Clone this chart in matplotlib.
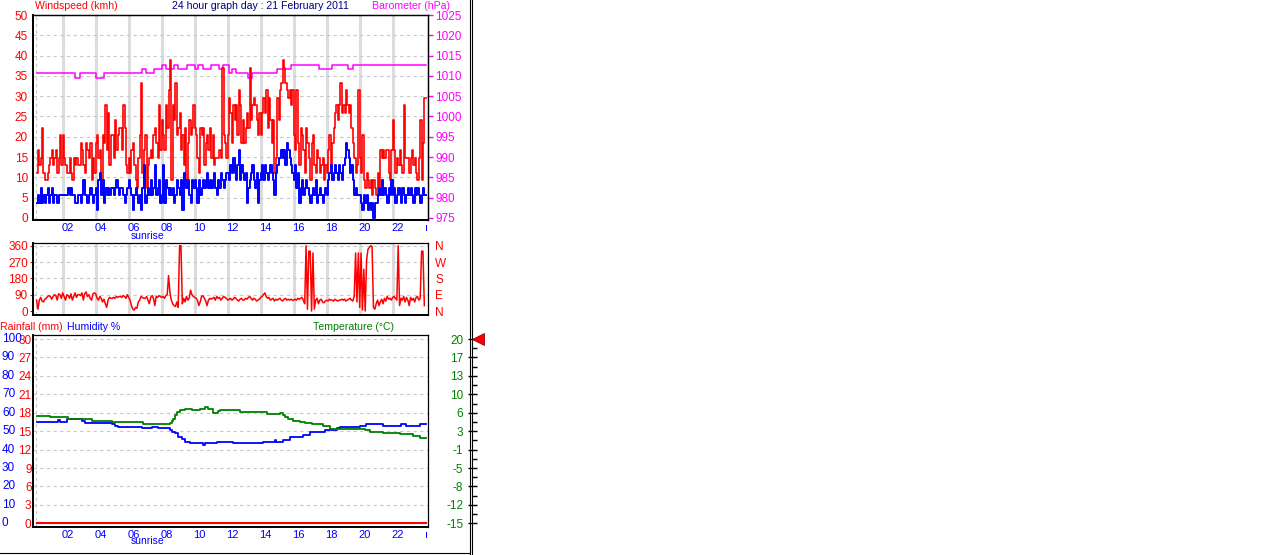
import numpy as np
import matplotlib
matplotlib.use("Agg")
import matplotlib.pyplot as plt
from matplotlib.lines import Line2D
from matplotlib.transforms import blended_transform_factory, ScaledTranslation

plt.rcParams['font.family'] = ['Liberation Sans', 'DejaVu Sans']
plt.rcParams['font.size'] = 8

W, H, DPI = 1272, 555, 100

RED = '#ff0000'
BLUE = '#0000ff'
MAG = '#ff00ff'
GREEN = '#008000'
NAVY = '#000080'
VGRID = '#dcdcdc'
HGRID = '#c8c8c8'

# ---- data: 5 minute samples from 00:25 to 23:55 ----
START = 5 / 12
STEP = 1 / 12

# wind gust, knot steps (1 kn = 1.852 km/h), one row per hour
gust_kn = [
    6, 9, 7, 8, 12, 6, 5,
    5, 6, 7, 8, 9, 7, 8, 9, 6, 8, 11, 7,
    11, 8, 7, 6, 6, 8, 6, 5, 8, 7, 8, 7,
    7, 10, 9, 7, 6, 10, 9, 8, 10, 5, 8, 6,
    10, 11, 8, 9, 5, 11, 10, 15, 9, 14, 7, 11,
    11, 8, 13, 9, 11, 12, 12, 9, 15, 12, 7, 6,
    8, 6, 9, 10, 7, 5, 4, 8, 11, 18, 6, 9,
    11, 4, 7, 8, 9, 8, 11, 12, 10, 8, 15, 9,
    13, 11, 9, 15, 12, 17, 21, 5, 15, 13, 18, 11,
    12, 14, 9, 11, 7, 12, 5, 10, 13, 11, 12, 15,
    12, 11, 8, 6, 12, 11, 12, 7, 10, 11, 9, 12,
    8, 11, 7, 8, 8, 8, 9, 8, 20, 11, 10, 8,
    11, 16, 14, 10, 15, 13, 15, 11, 17, 15, 10, 13,
    10, 12, 14, 12, 20, 13, 15, 16, 15, 13, 11, 14,
    11, 14, 16, 14, 17, 12, 16, 13, 10, 13, 6, 8,
    16, 13, 17, 18, 21, 20, 18, 17, 16, 17, 15, 17,
    11, 9, 17, 10, 7, 12, 11, 9, 6, 12, 10, 8,
    5, 10, 11, 7, 6, 9, 8, 6, 7, 8, 5, 7,
    6, 9, 11, 7, 10, 12, 14, 15, 13, 15, 18, 14,
    15, 14, 17, 15, 14, 15, 12, 10, 8, 6, 7, 17,
    8, 6, 11, 5, 4, 6, 5, 4, 5, 3, 5, 4,
    3, 6, 4, 9, 8, 9, 8, 9, 9, 6, 5, 9,
    13, 9, 6, 8, 7, 9, 7, 6, 15, 8, 8, 8,
    6, 8, 9, 7, 8, 6, 5, 8, 13, 5, 10, 16,
]

# average wind speed, knot steps
wind_kn = [
    2, 3, 2, 4, 2, 3, 2,
    3, 4, 2, 3, 4, 2, 3, 3, 2, 3, 3, 3,
    3, 3, 3, 3, 4, 3, 4, 3, 3, 2, 2, 3,
    3, 2, 3, 5, 3, 3, 2, 3, 4, 3, 2, 3,
    4, 1, 5, 6, 3, 5, 2, 4, 3, 4, 3, 4,
    4, 3, 4, 5, 4, 3, 4, 4, 3, 2, 3, 4,
    5, 4, 3, 1, 3, 4, 3, 2, 3, 1, 4, 7,
    2, 3, 4, 3, 5, 3, 4, 7, 3, 4, 5, 2,
    3, 7, 2, 5, 4, 3, 4, 3, 4, 2, 3, 5,
    4, 3, 5, 1, 6, 5, 4, 5, 3, 2, 5, 4,
    5, 4, 2, 5, 3, 4, 5, 4, 5, 6, 4, 5,
    4, 5, 6, 4, 3, 5, 4, 6, 5, 4, 5, 6,
    6, 5, 7, 6, 8, 6, 5, 7, 9, 5, 7, 6,
    5, 6, 2, 4, 5, 6, 7, 5, 4, 6, 2, 5,
    6, 7, 5, 7, 6, 5, 6, 7, 6, 5, 3, 6,
    7, 8, 8, 9, 8, 9, 7, 10, 9, 8, 7, 6,
    5, 7, 4, 6, 2, 4, 5, 3, 4, 5, 4, 3,
    2, 3, 4, 3, 5, 2, 3, 4, 3, 2, 3, 4,
    3, 5, 6, 7, 5, 6, 7, 6, 5, 7, 6, 5,
    7, 8, 10, 9, 8, 6, 7, 5, 3, 4, 3, 3,
    3, 2, 1, 3, 2, 3, 1, 2, 1, 2, 0, 2,
    2, 3, 4, 3, 5, 3, 4, 3, 2, 4, 3, 5,
    3, 4, 2, 3, 4, 3, 2, 4, 3, 2, 3, 4,
    3, 4, 3, 2, 4, 3, 4, 3, 2, 3, 4, 3,
]

# wind direction, degrees
wind_dir = [
    60, 10, 60, 75, 55, 50, 65,
    70, 80, 85, 80, 65, 80, 90, 85, 60, 95, 90, 70,
    100, 80, 60, 90, 85, 70, 95, 60, 80, 100, 75, 90,
    90, 85, 100, 60, 95, 105, 80, 90, 70, 60, 95, 100,
    95, 70, 60, 80, 70, 50, 65, 40, 20, 60, 75, 70,
    70, 75, 70, 80, 75, 80, 80, 75, 85, 80, 70, 90,
    75, 60, 30, 10, 5, 20, 15, 50, 60, 80, 75, 70,
    70, 80, 60, 40, 75, 85, 70, 30, 80, 75, 85, 80,
    75, 80, 70, 85, 90, 195, 100, 60, 40, 30, 25, 50,
    20, 360, 360, 40, 70, 50, 80, 60, 70, 115, 90, 80,
    75, 70, 60, 30, 50, 80, 85, 70, 55, 30, 60, 70,
    65, 70, 75, 60, 80, 70, 75, 60, 70, 80, 75, 70,
    60, 65, 70, 60, 65, 75, 70, 60, 55, 65, 70, 60,
    60, 70, 65, 75, 80, 70, 60, 70, 65, 55, 60, 65,
    75, 80, 90, 100, 80, 70, 75, 60, 65, 70, 55, 65,
    60, 65, 70, 60, 55, 65, 70, 60, 65, 60, 65, 60,
    60, 65, 60, 70, 65, 70, 75, 60, 40, 360, 10, 330,
    330, 0, 320, 10, 60, 70, 40, 60, 65, 50, 45, 55,
    60, 55, 65, 60, 60, 55, 65, 60, 55, 60, 60, 65,
    60, 65, 55, 60, 65, 70, 60, 55, 80, 320, 50, 320,
    20, 320, 5, 230, 0, 280, 340, 350, 360, 355, 20, 10,
    40, 60, 30, 50, 65, 40, 70, 55, 80, 65, 70, 60,
    75, 80, 70, 60, 360, 30, 70, 60, 80, 50, 75, 60,
    30, 75, 60, 70, 50, 75, 80, 60, 70, 330, 330, 30,
]

# barometer steps (hour of change, hPa)
baro_hours = [0.42, 2.77, 3.03, 4.0, 4.48, 6.79, 7.03, 7.53, 8.0, 8.24, 8.77,
              9.01, 9.51, 10.02, 10.22, 10.48, 10.99, 11.49, 11.73, 12.08,
              12.28, 12.52, 13.23, 13.49, 15.0, 15.83, 17.52, 18.3, 19.27,
              19.57, 24.0]
baro_hpa = [1010.7, 1009.5, 1010.7, 1009.5, 1010.7, 1011.6, 1010.7, 1011.6,
            1012.6, 1011.6, 1012.6, 1011.6, 1012.6, 1011.6, 1012.6, 1011.6,
            1012.6, 1011.6, 1012.6, 1010.7, 1011.6, 1010.7, 1009.5, 1010.7,
            1011.6, 1012.6, 1011.6, 1012.6, 1011.6, 1012.6, 1012.6]

# humidity steps (hour of change, %)
hum_hours = [0.42, 1.74, 1.84, 2.24, 3.15, 3.35, 4.97, 5.17, 5.37, 6.79,
             7.39, 7.8, 8.5, 8.6, 8.81, 9.01, 9.21, 9.41, 9.72, 10.5,
             10.6, 11.33, 12.34, 14.16, 14.85, 14.9, 15.37, 15.78, 16.58, 16.99,
             17.9, 18.6, 18.8, 20.0, 20.4, 21.4, 22.5, 22.8, 23.65, 24.0]
hum_pct = [55.1, 56.0, 55.1, 56.6, 55.5, 54.2, 53.7, 52.8, 52.4, 51.5,
           52.4, 51.5, 50.6, 49.7, 48.8, 47.0, 45.8, 44.3, 43.4, 42.5,
           43.4, 44.3, 43.4, 44.3, 45.2, 44.3, 45.2, 47.0, 47.9, 49.4,
           50.6, 51.5, 52.4, 52.8, 53.7, 52.8, 53.7, 52.8, 53.7, 53.7]

# temperature steps (hour of change, degC)
temp_hours = [0.42, 1.23, 2.34, 3.76, 4.97, 6.89, 8.5, 8.6, 8.7, 8.8, 8.91,
              9.11, 9.41, 9.82, 10.32, 10.62, 10.83, 11.13, 11.43, 11.53,
              12.75, 13.35, 14.36, 15.17, 15.37, 15.5, 15.67, 15.98, 16.38,
              16.7, 17.09, 17.8, 18.2, 19.41, 20.32, 20.62, 21.43, 22.44,
              23.25, 23.65, 24.0]
temp_c = [5.4, 5.1, 4.8, 4.5, 4.2, 3.9, 4.1, 4.4, 4.9, 5.5, 6.2,
          6.5, 6.8, 6.6, 6.8, 7.1, 6.8, 5.9, 6.4, 6.5,
          6.2, 6.1, 5.8, 5.9, 5.6, 5.2, 4.8, 4.4, 4.3,
          4.0, 3.8, 3.4, 3.0, 2.9, 2.7, 2.3, 2.1, 1.9,
          1.6, 1.3, 1.3]

rain_hours = [0.42, 24.0]
rain_mm = [0.0, 0.0]

hour_ticks = [2, 4, 6, 8, 10, 12, 14, 16, 18, 20, 22, 24]
hour_labels = ['02', '04', '06', '08', '10', '12', '14', '16', '18', '20', '22', 'ı']
sunrise_hour = 7.17

wind_ticks = list(range(0, 51, 5))
baro_ticks = list(range(975, 1026, 5))
dir_ticks = [0, 90, 180, 270, 360]
dir_labels = ['N', 'E', 'S', 'W', 'N']
hum_ticks = list(range(0, 101, 10))
rain_labels = ['0', '3', '6', '9', '12', '15', '18', '21', '24', '27', '30']
temp_ticks = [-15 + 3.5 * k for k in range(11)]
temp_labels = ['-15', '-12', '-8', '-5', '-1', '3', '6', '10', '13', '17', '20']

KMH_PER_KN = 1.852
TEMP_LIM = (-15 - 2.0 * 0.35, 20 + 2.2 * 0.35)
CAPTION = 7.6


def rect(left, top, right, bottom):
    return [left / W, 1 - bottom / H, (right - left) / W, (bottom - top) / H]


def px(n):
    return n * 72 / DPI


XLIM = ((33 - 29.7) / 16.5, (428 - 29.7) / 16.5)


def frame(ax):
    for s in ax.spines.values():
        s.set_color('black')
        s.set_linewidth(0.9)
    ax.spines['left'].set_linewidth(1.4)
    ax.spines['bottom'].set_linewidth(1.4)
    ax.set_xlim(*XLIM)


def bare(ax):
    for s in ax.spines.values():
        s.set_visible(False)
    ax.set_yticks([])
    ax.tick_params(left=False, right=False, labelleft=False, labelright=False)


def hgrid(ax, values):
    for v in values:
        ax.axhline(v, color=HGRID, lw=0.8, ls=(0, (3, 3)), zorder=0)


def vgrid(ax):
    for h in range(2, 24, 2):
        ax.axvline(h, color=VGRID, lw=2.2, zorder=0)
    ax.axvline(0.36, color=HGRID, lw=0.8, ls=(0, (3, 3)), zorder=0)


def hour_axis(ax, fig):
    ax.set_xticks(hour_ticks)
    ax.set_xticklabels(hour_labels)
    ax.tick_params(axis='x', length=0, pad=px(3), labelcolor=BLUE)
    labels = ax.get_xticklabels()
    for i, lbl in enumerate(labels):
        dx = 1 if i == len(labels) - 1 else 5
        lbl.set_transform(lbl.get_transform() + ScaledTranslation(dx / DPI, 0, fig.dpi_scale_trans))
    return blended_transform_factory(ax.transData, ax.transAxes)


fig = plt.figure(figsize=(W / DPI, H / DPI), dpi=DPI)

n = len(gust_kn)
t = START + STEP * np.arange(n)
t_step = np.append(t, 24.0)
gust = np.append(np.array(gust_kn) * KMH_PER_KN, gust_kn[-1] * KMH_PER_KN)
wind = np.append(np.array(wind_kn) * KMH_PER_KN, wind_kn[-1] * KMH_PER_KN)

# ---- panel 1: wind speed and barometer ----
ax1 = fig.add_axes(rect(33, 15, 428, 220))
ax1b = ax1.twinx()
ax1b.set_zorder(ax1.get_zorder() - 1)
ax1.patch.set_visible(False)
ax1b.patch.set_visible(True)
ax1b.patch.set_facecolor('white')
frame(ax1)
frame(ax1b)
ax1.set_ylim(-0.5, 50)
ax1b.set_ylim(974.5, 1025)
vgrid(ax1b)
hgrid(ax1b, range(980, 1025, 5))
ax1b.step(baro_hours, baro_hpa, where='post', color=MAG, lw=1.1)
ax1.step(t_step, gust, where='post', color=RED, lw=1.2)
ax1.step(t_step, wind, where='post', color=BLUE, lw=1.4)
ax1.set_yticks(wind_ticks)
ax1.tick_params(axis='y', length=0, pad=px(5), labelcolor=RED, labelsize=8.5)
ax1b.set_yticks(baro_ticks)
ax1b.tick_params(axis='y', length=px(5), width=1, color=MAG, pad=px(2), labelcolor=MAG,
                 labelsize=8.5)
tr1 = hour_axis(ax1, fig)
ax1.text(sunrise_hour, -16 / 205, 'sunrise', transform=tr1, ha='center', va='center',
         color=BLUE, fontsize=7.5)

# ---- panel 2: wind direction ----
ax2 = fig.add_axes(rect(33, 243, 428, 315))
frame(ax2)
ax2.set_ylim(-22, 375)
vgrid(ax2)
hgrid(ax2, [90, 180, 270, 360])
ax2.plot(t, wind_dir, color=RED, lw=1.1)
ax2.set_yticks(dir_ticks)
ax2.tick_params(axis='y', length=px(3), color=RED, pad=px(2), labelcolor=RED, labelsize=8.5)
ax2.set_xticks([])
ax2r = ax2.twinx()
ax2r.set_ylim(-22, 375)
ax2r.set_yticks(dir_ticks)
ax2r.set_yticklabels(dir_labels)
ax2r.tick_params(axis='y', length=0, pad=px(7), labelcolor=RED, labelsize=8.5)
for s in ax2r.spines.values():
    s.set_visible(False)

# ---- panel 3: rain, humidity, temperature ----
ax3 = fig.add_axes(rect(33, 335, 428, 527))
frame(ax3)
ax3.set_ylim(-2.0, 102.2)
hgrid(ax3, range(10, 101, 10))
ax3.axvline(0.36, color=HGRID, lw=0.8, ls=(0, (3, 3)), zorder=0)
ax3.set_yticks(hum_ticks)
ax3.set_yticklabels(rain_labels)
ax3.tick_params(axis='y', length=0, pad=px(1.5), labelcolor=RED, labelsize=8.5)
tr_hum = blended_transform_factory(fig.transFigure, ax3.transData)
for v in hum_ticks:
    ax3.text(2 / W, v, str(v), transform=tr_hum, ha='left', va='center', color=BLUE,
             fontsize=8.5)

ax_rain = ax3.twinx()
ax_rain.set_ylim(-0.6, 30.66)
bare(ax_rain)
ax_rain.step(rain_hours, rain_mm, where='post', color=RED, lw=1.5)

ax_temp = ax3.twinx()
ax_temp.set_ylim(*TEMP_LIM)
bare(ax_temp)
ax3.step(hum_hours, hum_pct, where='post', color=BLUE, lw=1.3)
ax_temp.step(temp_hours, temp_c, where='post', color=GREEN, lw=1.3)
tr3 = hour_axis(ax3, fig)
ax3.text(sunrise_hour, -14.5 / 192, 'sunrise', transform=tr3, ha='center', va='center',
         color=BLUE, fontsize=7.5)

# temperature scale on the far right
ax_ts = fig.add_axes(rect(472.2, 335, 473.2, 527))
ax_ts.set_ylim(*TEMP_LIM)
for s in ax_ts.spines.values():
    s.set_visible(False)
ax_ts.set_xticks([])
ax_ts.set_yticks(temp_ticks)
ax_ts.set_yticklabels(temp_labels)
ax_ts.set_yticks([v + 1.75 for v in temp_ticks[:-1]], minor=True)
ax_ts.tick_params(axis='y', which='major', direction='inout', length=px(9), width=1,
                  color='black', pad=px(4.5), labelcolor=GREEN, labelsize=8.5)
ax_ts.tick_params(axis='y', which='minor', direction='in', length=px(5), width=1,
                  color='black')
ax_ts.patch.set_visible(False)
tr_ts = blended_transform_factory(fig.transFigure, ax_ts.transData)
ax_ts.plot([478 / W], [temp_ticks[-1]], marker='<', ms=8, color=RED, mec='#a00000',
           mew=0.6, transform=tr_ts, clip_on=False)

# ---- frame lines and captions ----
fig.add_artist(Line2D([470.2 / W] * 2, [0, 1], color='black', lw=0.8))
fig.add_artist(Line2D([472.2 / W] * 2, [0, 1], color='black', lw=0.8))
fig.add_artist(Line2D([0, 470.2 / W], [1 - 553 / H] * 2, color='black', lw=0.8))

fig.text(35 / W, 1 - 6 / H, 'Windspeed (kmh)', color=RED, ha='left', va='center',
         fontsize=CAPTION)
fig.text(260 / W, 1 - 6 / H, '24 hour graph day : 21 February 2011', color=NAVY,
         ha='center', va='center', fontsize=CAPTION)
fig.text(372 / W, 1 - 6 / H, 'Barometer (hPa)', color=MAG, ha='left', va='center',
         fontsize=CAPTION)
fig.text(0, 1 - 327 / H, 'Rainfall (mm)', color=RED, ha='left', va='center',
         fontsize=CAPTION)
fig.text(67 / W, 1 - 327 / H, 'Humidity %', color=BLUE, ha='left', va='center',
         fontsize=CAPTION)
fig.text(313 / W, 1 - 327 / H, 'Temperature (°C)', color=GREEN, ha='left', va='center',
         fontsize=CAPTION)

fig.savefig('out.png', dpi=DPI, facecolor='white')
